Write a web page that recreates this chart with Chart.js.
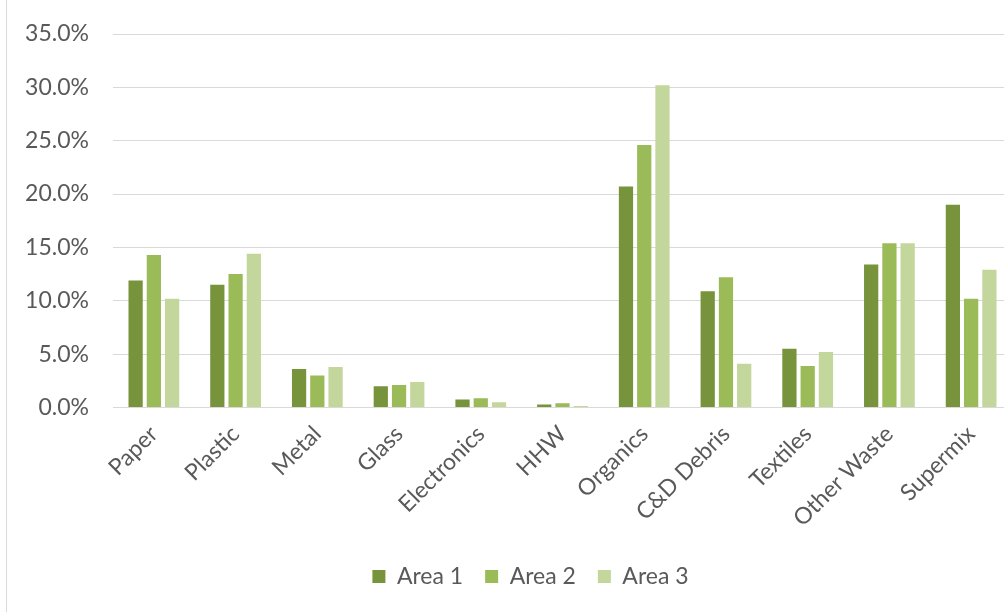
<!DOCTYPE html>
<html>
<head>
<meta charset="utf-8">
<script src="https://cdn.jsdelivr.net/npm/chart.js@4.4.1/dist/chart.umd.min.js"></script>
<style>
  html, body { margin: 0; padding: 0; background: #fff; overflow: hidden; }
  #frame {
    position: absolute;
    left: 6px;
    top: 0;
    width: 1048px;
    height: 612px;
    border-left: 1px solid #d9d9d9;
  }
  #wasteChart { display: block; }
</style>
</head>
<body>
<div id="frame">
  <canvas id="wasteChart" width="1048" height="612"></canvas>
</div>
<script>
// Waste composition by area (share of total, %)
const categories = ['Paper', 'Plastic', 'Metal', 'Glass', 'Electronics', 'HHW',
    'Organics', 'C&D Debris', 'Textiles', 'Other Waste', 'Supermix'];
const area1 = [11.9, 11.5, 3.6, 2.0, 0.75, 0.28, 20.7, 10.9, 5.5, 13.4, 19.0];
const area2 = [14.3, 12.5, 3.0, 2.1, 0.87, 0.40, 24.6, 12.2, 3.9, 15.4, 10.2];
const area3 = [10.2, 14.4, 3.8, 2.4, 0.50, 0.15, 30.2, 4.1, 5.2, 15.4, 12.9];
const seriesNames = ['Area 1', 'Area 2', 'Area 3'];
const seriesColors = ['#77933c', '#9bbb59', '#c3d69b'];

const labelFont = { family: 'Lato', size: 23 };
const textColor = '#595959';

// Centre the legend under the whole chart (axis labels included), not just the padded area
const legendShift = {
    id: 'legendShift',
    afterLayout(chart) {
        const lg = chart.legend;
        if (!lg) return;
        lg.left += 21;
        lg.right += 21;
    }
};

const ctx = document.getElementById('wasteChart');

new Chart(ctx, {
    type: 'bar',
    data: {
        labels: categories,
        datasets: [area1, area2, area3].map((values, i) => ({
            label: seriesNames[i],
            data: values,
            backgroundColor: seriesColors[i],
            borderWidth: 0,
            categoryPercentage: 0.67,
            barPercentage: 0.78
        }))
    },
    plugins: [legendShift],
    options: {
        responsive: false,
        animation: false,
        layout: {
            padding: { left: 0, right: 43, top: 34, bottom: 14 }
        },
        plugins: {
            legend: {
                position: 'bottom',
                labels: {
                    color: textColor,
                    font: labelFont,
                    boxWidth: 13,
                    boxHeight: 13,
                    padding: 22
                }
            },
            tooltip: { enabled: false }
        },
        scales: {
            x: {
                afterFit: (scale) => { scale.height += 6; },
                grid: { display: false },
                border: { display: false },
                ticks: {
                    color: textColor,
                    font: labelFont,
                    autoSkip: false,
                    minRotation: 45,
                    maxRotation: 45,
                    padding: 5
                }
            },
            y: {
                min: 0,
                max: 35,
                afterFit: (scale) => { scale.width = 106; },
                // invisible tick marks keep the labels clear of the plot without
                // inflating the axis' top padding
                grid: {
                    color: '#d9d9d9',
                    lineWidth: 1,
                    drawTicks: true,
                    tickLength: 24,
                    tickColor: 'rgba(0,0,0,0)'
                },
                border: { display: false },
                ticks: {
                    stepSize: 5,
                    color: textColor,
                    font: labelFont,
                    padding: 0,
                    callback: (v) => v.toFixed(1) + '%'
                }
            }
        }
    }
});
</script>
</body>
</html>
